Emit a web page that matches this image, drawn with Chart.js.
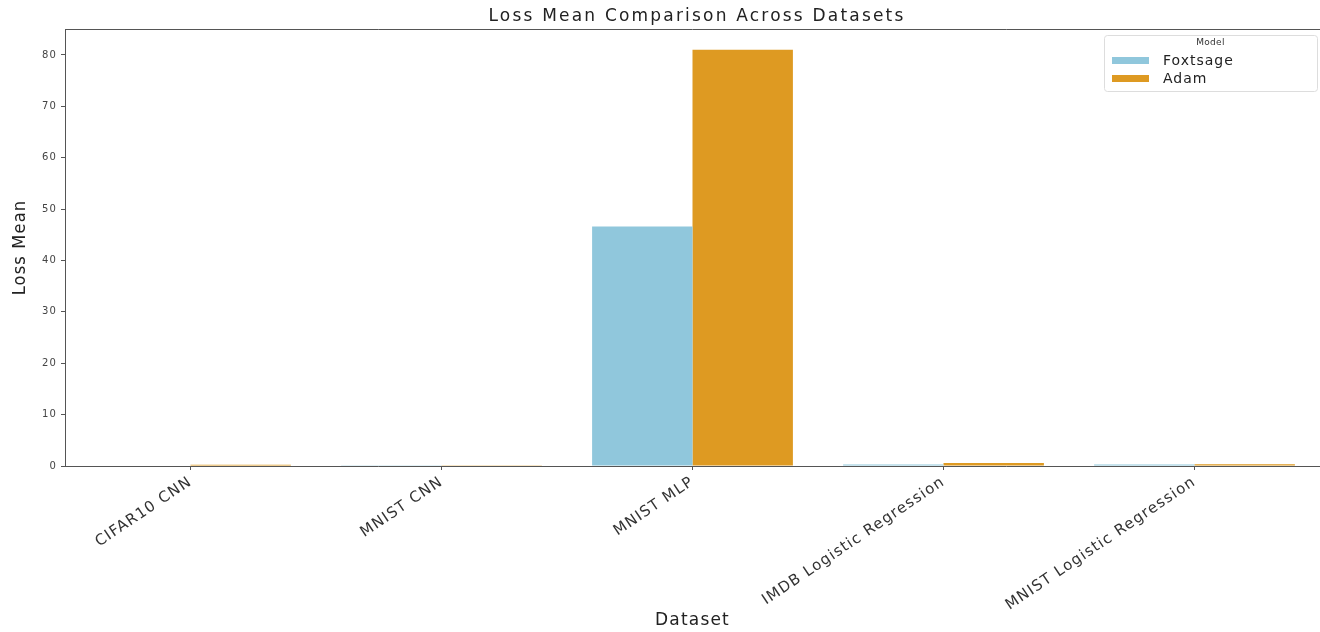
<!DOCTYPE html>
<html>
<head>
<meta charset="utf-8">
<script src="https://cdn.jsdelivr.net/npm/chart.js@4.4.1/dist/chart.umd.min.js"></script>
<style>
  html, body { margin: 0; padding: 0; background: #fff; }
  #wrap { width: 1320px; height: 632px; }
</style>
</head>
<body>
<div id="wrap"><canvas id="lossChart" width="1320" height="632"></canvas></div>
<script>
const datasets = ['CIFAR10 CNN', 'MNIST CNN', 'MNIST MLP', 'IMDB Logistic Regression', 'MNIST Logistic Regression'];
const foxtsageLoss = [0.1, 0.05, 46.6, 0.3, 0.3];
const adamLoss = [0.25, 0.05, 81.0, 0.6, 0.35];
const yTicks = [0, 10, 20, 30, 40, 50, 60, 70, 80];
const chartTitle = 'Loss Mean Comparison Across Datasets';

const colors = {
    foxtsage: '#90C7DC',
    adam: '#DE9A22',
    spine: '#555555'
};

// the reference looks stretched sideways, so spread the x-axis letters a little.
// y axis sits on z:1 so it is drawn after the bars, with normal spacing.
const spacing = {
    id: 'spacing',
    beforeLayout(chart) { chart.ctx.letterSpacing = '1.2px'; },
    beforeDraw(chart) { chart.ctx.letterSpacing = '1.2px'; },
    afterDatasetsDraw(chart) { chart.ctx.letterSpacing = '0px'; }
};

// title, top and bottom spines
const frame = {
    id: 'frame',
    afterDraw(chart) {
        const { ctx, chartArea } = chart;
        ctx.save();
        ctx.strokeStyle = colors.spine;
        ctx.lineWidth = 1;
        ctx.beginPath();
        ctx.moveTo(chartArea.left, chartArea.top + 0.5);
        ctx.lineTo(chartArea.right, chartArea.top + 0.5);
        ctx.moveTo(chartArea.left, chartArea.bottom + 0.5);
        ctx.lineTo(chartArea.right, chartArea.bottom + 0.5);
        ctx.stroke();

        ctx.letterSpacing = '2.2px';
        ctx.fillStyle = '#222';
        ctx.font = '17px "DejaVu Sans"';
        ctx.textAlign = 'center';
        ctx.textBaseline = 'middle';
        ctx.fillText(chartTitle, 697, 17);
        ctx.restore();
    }
};

// legend box drawn inside the plot, top right like matplotlib
const legendBox = {
    id: 'legendBox',
    afterDraw(chart) {
        const ctx = chart.ctx;
        const x = 1104, y = 35, w = 213, h = 56;
        ctx.save();
        ctx.fillStyle = 'rgba(255,255,255,0.9)';
        ctx.strokeStyle = '#dddddd';
        ctx.lineWidth = 1;
        ctx.beginPath();
        ctx.roundRect(x + 0.5, y + 0.5, w, h, 3);
        ctx.fill();
        ctx.stroke();

        ctx.letterSpacing = '0.3px';
        ctx.fillStyle = '#333';
        ctx.font = '9px "DejaVu Sans"';
        ctx.textAlign = 'center';
        ctx.textBaseline = 'middle';
        ctx.fillText('Model', x + w / 2, y + 8);

        ctx.letterSpacing = '1px';
        ctx.textAlign = 'left';
        ctx.font = '14px "DejaVu Sans"';
        chart.data.datasets.forEach((ds, i) => {
            const ry = y + 25 + i * 18;
            ctx.fillStyle = ds.backgroundColor;
            ctx.fillRect(x + 8, ry - 3, 37, 7);
            ctx.fillStyle = '#222';
            ctx.fillText(ds.label, x + 59, ry + 1);
        });
        ctx.restore();
    }
};

new Chart(document.getElementById('lossChart'), {
    type: 'bar',
    data: {
        labels: datasets,
        datasets: [
            {
                label: 'Foxtsage',
                data: foxtsageLoss,
                backgroundColor: colors.foxtsage,
                categoryPercentage: 0.8,
                barPercentage: 1.0
            },
            {
                label: 'Adam',
                data: adamLoss,
                backgroundColor: colors.adam,
                categoryPercentage: 0.8,
                barPercentage: 1.0
            }
        ]
    },
    options: {
        responsive: false,
        animation: false,
        layout: { padding: { left: 0, right: 0, top: 29, bottom: 0 } },
        plugins: {
            legend: { display: false },
            tooltip: { enabled: false },
            title: { display: false }
        },
        scales: {
            x: {
                afterFit: scale => { scale.height = 166; },
                grid: { display: true, drawOnChartArea: false, offset: false, tickLength: 4, color: colors.spine },
                border: { display: false },
                ticks: {
                    color: '#333',
                    font: { family: '"DejaVu Sans"', size: 15 },
                    minRotation: 34,
                    maxRotation: 34,
                    autoSkip: false,
                    padding: 3
                },
                title: {
                    display: true,
                    text: 'Dataset',
                    color: '#222',
                    font: { family: '"DejaVu Sans"', size: 17 },
                    padding: { top: 0, bottom: 1 }
                }
            },
            y: {
                z: 1,
                min: 0,
                max: 85.05,
                afterFit: scale => { scale.width = 65; },
                afterBuildTicks: scale => { scale.ticks = yTicks.map(v => ({ value: v })); },
                grid: { display: true, drawOnChartArea: false, tickLength: 4, color: colors.spine },
                border: { display: true, color: colors.spine },
                ticks: {
                    color: '#444',
                    font: { family: '"DejaVu Sans"', size: 10 },
                    padding: 4
                },
                title: {
                    display: true,
                    text: 'Loss Mean',
                    color: '#222',
                    font: { family: '"DejaVu Sans Condensed", "Liberation Sans Narrow", "DejaVu Sans"', size: 18 },
                    padding: { top: 10, bottom: 0 }
                }
            }
        }
    },
    plugins: [spacing, frame, legendBox]
});
</script>
</body>
</html>
